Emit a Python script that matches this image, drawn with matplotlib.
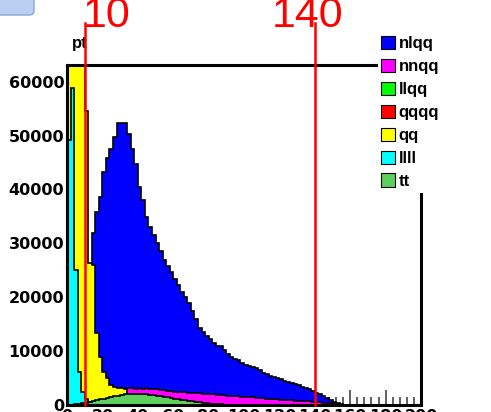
import matplotlib
matplotlib.use("Agg")
import matplotlib.pyplot as plt
from matplotlib.patches import Patch, Rectangle, FancyBboxPatch
import numpy as np

plt.rcParams['font.family'] = ['Liberation Sans', 'DejaVu Sans']

# pt histogram, 100 bins of 2 GeV from 0 to 200
edges = np.arange(0, 202, 2)

nlqq = [0, 100, 500, 1500, 4000, 9000, 18000, 32000, 35800, 38600,
        43300, 45800, 47600, 49800, 52300, 52400, 52400, 50300, 47600, 44800,
        40500, 38000, 34900, 33000, 31500, 30000, 28500, 27000, 25800, 24600,
        23400, 22200, 21000, 20000, 19000, 17500, 16000, 14300, 13600, 12800,
        12200, 11500, 11000, 10900, 10200, 9500, 8900, 8600, 8400, 7800,
        7400, 7200, 7000, 6800, 6500, 6000, 5800, 5400, 5200, 5000,
        4800, 4500, 4200, 4000, 3900, 3700, 3400, 3200, 2900, 2600,
        2300, 2100, 1700, 1300, 930, 600, 430, 150, 0, 0,
        0, 0, 0, 0, 0, 0, 0, 0, 0, 0,
        0, 0, 0, 0, 0, 0, 0, 0, 0, 0]

nnqq = [0, 50, 150, 300, 500, 800, 1100, 1400, 1700, 2000,
        2300, 2500, 2700, 2800, 2900, 3000, 3050, 3100, 3100, 3050,
        3100, 3050, 3100, 3000, 2950, 2900, 2800, 2700, 2650, 2600,
        2500, 2450, 2400, 2350, 2300, 2250, 2200, 2150, 2100, 2050,
        2000, 1950, 1900, 1850, 1800, 1750, 1700, 1650, 1600, 1550,
        1500, 1450, 1400, 1350, 1300, 1250, 1200, 1150, 1100, 1050,
        1000, 950, 900, 850, 800, 780, 750, 700, 650, 600,
        550, 500, 450, 400, 300, 200, 120, 60, 20, 0,
        0, 0, 0, 0, 0, 0, 0, 0, 0, 0,
        0, 0, 0, 0, 0, 0, 0, 0, 0, 0]

# empty in this selection
llqq = np.zeros(100)
qqqq = np.zeros(100)

qq = [80000, 80000, 80000, 80000, 80000, 54600, 26300, 26000, 13300, 8900,
      6100, 5000, 3700, 3300, 3200, 3100, 3000, 1500, 1200, 900,
      700, 500, 350, 250, 150, 100, 50, 0, 0, 0] + [0] * 70

llll = [49200, 58800, 25100, 6100, 2500, 1200, 500, 200, 100, 0] + [0] * 90

tt = [0, 50, 150, 250, 350, 450, 600, 750, 900, 1050,
      1200, 1350, 1500, 1600, 1750, 1850, 1950, 2000, 2050, 2050,
      2050, 2000, 1950, 1900, 1800, 1700, 1600, 1500, 1400, 1300,
      1200, 1100, 1000, 900, 800, 700, 600, 500, 400, 300,
      250, 200, 150, 100, 50, 0] + [0] * 54

names = ['nlqq', 'nnqq', 'llqq', 'qqqq', 'qq', 'llll', 'tt']
colors = ['#0000ff', '#ff00ff', '#00ff00', '#ff0000', '#ffff00', '#00ffff', '#5ccf5c']
series = [nlqq, nnqq, llqq, qqqq, qq, llll, tt]

cuts = [10, 140]
cut_label_x = [22.4, 136.0]

W, H = 491, 412
fig = plt.figure(figsize=(W / 100, H / 100), dpi=100)
ax = fig.add_axes([67 / W, (H - 405) / H, (421 - 67) / W, (405 - 65) / H])

# overlaid, not stacked: later histograms cover earlier ones
for vals, c in zip(series, colors):
    ax.stairs(vals, edges, fill=True, facecolor=c, edgecolor='black', linewidth=1.2)

ax.set_xlim(0, 200)
ax.set_ylim(0, 63100)
ax.set_axisbelow(True)
ax.set_xticks(np.arange(0, 201, 20))
ax.set_xticks(np.arange(0, 201, 4), minor=True)
ax.set_yticks(np.arange(0, 60001, 10000))
ax.set_yticks(np.arange(0, 63001, 2000), minor=True)
ax.tick_params(which='both', direction='in', colors='#444444', labelcolor='black',
               labelsize=11.5, width=1.2)
ax.tick_params(which='major', length=11)
ax.tick_params(which='minor', length=6)
ax.tick_params(axis='x', pad=3)
ax.tick_params(axis='y', pad=2)
for lab in ax.get_xticklabels() + ax.get_yticklabels():
    lab.set_fontweight('bold')
    lab.set_family('DejaVu Sans')
for s in ax.spines.values():
    s.set_linewidth(2.2)

ax.text(0.013, 1.04, 'pt', transform=ax.transAxes, fontsize=12, fontweight='bold',
        ha='left', va='bottom')

# selection cuts
top = (405 - 23) / (405 - 65)
for c, lx in zip(cuts, cut_label_x):
    ax.axvline(c, ymin=0, ymax=top, color='red', linewidth=1.8, clip_on=False, zorder=6)
    ax.text(lx, 70100, str(c), color='red', fontsize=31, ha='center', va='baseline',
            clip_on=False, zorder=6)

# white legend area hiding the frame corner
fig.add_artist(Rectangle((378 / W, (H - 193) / H), 113 / W, 163 / H,
                         transform=fig.transFigure, facecolor='white', edgecolor='none', zorder=3))
handles = [Patch(facecolor=c, edgecolor='black', linewidth=0.8) for c in colors]
fig.legend(handles, names, loc='upper left', bbox_to_anchor=(381 / W, (H - 36) / H),
           frameon=False, prop={'weight': 'bold', 'size': 12},
           handlelength=0.85, handleheight=0.85, handletextpad=0.2,
           labelspacing=0.45, borderpad=0.0, borderaxespad=0.0)

# slide box in the corner
fig.add_artist(FancyBboxPatch((-10 / W, (H - 15) / H), 44 / W, 22 / H,
                              boxstyle='round,pad=0,rounding_size=0.01',
                              transform=fig.transFigure, facecolor='#b9d0f2',
                              edgecolor='#8aa6d0', linewidth=1, zorder=3))

fig.savefig('out.png', dpi=100)
